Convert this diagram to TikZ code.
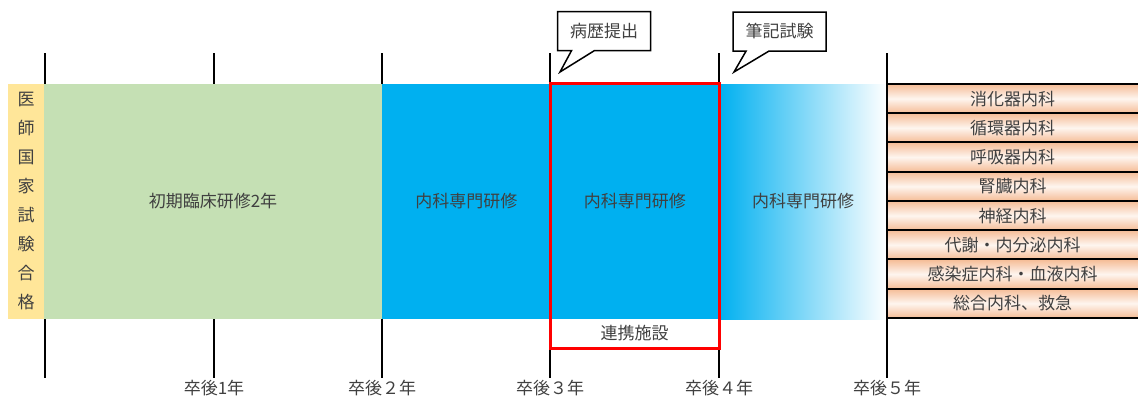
\documentclass[tikz,border=0pt]{standalone}
\usepackage{fontspec}
\setmainfont{Noto Sans CJK JP}
\usetikzlibrary{shapes.callouts}
\definecolor{passyellow}{HTML}{FFE699}
\definecolor{initgreen}{HTML}{C5E0B4}
\definecolor{specblue}{HTML}{00B0F0}
\definecolor{deptorange}{HTML}{F5BC96}
\definecolor{deptlight}{HTML}{FEF5EF}
\definecolor{textgray}{HTML}{404040}
\tikzset{
  band/.style={inner sep=0pt, draw=none, minimum height=235pt},
  tick/.style={line width=2pt},
  rule/.style={line width=2pt},
  redframe/.style={draw=red, line width=3pt},
  deptbox/.style={inner sep=0pt, minimum width=251pt, minimum height=29.25pt,
    top color=deptorange, bottom color=deptorange, middle color=deptlight},
  note/.style={rectangle callout, draw=black, fill=white, line width=1.5pt,
    minimum width=93pt, minimum height=39pt, callout pointer width=23pt}
}

\begin{document}
\begin{tikzpicture}[x=1pt, y=-1pt,
  every node/.style={text=textgray, font=\fontsize{17}{20}\selectfont}]
  \useasboundingbox (0,0) rectangle (1138,399);

  % year lines
  \foreach \x in {45,214,382,550,719} \draw[tick] (\x,53) -- (\x,378);

  % bands
  \node[band, fill=passyellow, minimum width=36pt] (pass) at (26,201.5) {};
  \foreach \c [count=\i] in {医,師,国,家,試,験,合,格}
    \node (pass\i) at (26,70+29*\i) {\c};

  \node[band, fill=initgreen, minimum width=338pt] (init) at (213,201.5) {初期臨床研修2年};
  \node[band, fill=specblue, minimum width=168.5pt] (spec1) at (466.25,201.5) {内科専門研修};
  \node[band, fill=specblue, minimum width=168.5pt] (spec2) at (634.75,201.5) {内科専門研修};
  \node[band, left color=specblue, right color=white, minimum width=168pt] (spec3) at (803,201.5) {内科専門研修};

  % cooperating facility
  \node[inner sep=0pt, minimum width=169pt, minimum height=29pt] (coop) at (634.5,333.5) {連携施設};
  \draw[redframe] (spec2.north west) rectangle (coop.south east);

  % subspecialties
  \foreach \t [count=\i] in {消化器内科,循環器内科,呼吸器内科,腎臓内科,神経内科,代謝・内分泌内科,感染症内科・血液内科,総合内科、救急}{
    \node[deptbox] (dept\i) at (1012.5,84+29.25*\i-14.625) {\t};
    \draw[rule] (dept\i.north west) -- (dept\i.north east);
  }
  \draw[rule] (dept8.south west) -- (dept8.south east);
  \draw[tick] (887,53) -- (887,378);

  % callouts
  \node[note, callout absolute pointer={(560,72)}] (hist) at (604,31) {病歴提出};
  \node[note, callout absolute pointer={(734,72)}] (exam) at (779.5,31.5) {筆記試験};

  % years after graduation
  \foreach \x/\t [count=\i] in {214/卒後1年,382/卒後２年,550/卒後３年,719/卒後４年,887/卒後５年}
    \node (grad\i) at (\x,388) {\t};
\end{tikzpicture}
\end{document}
